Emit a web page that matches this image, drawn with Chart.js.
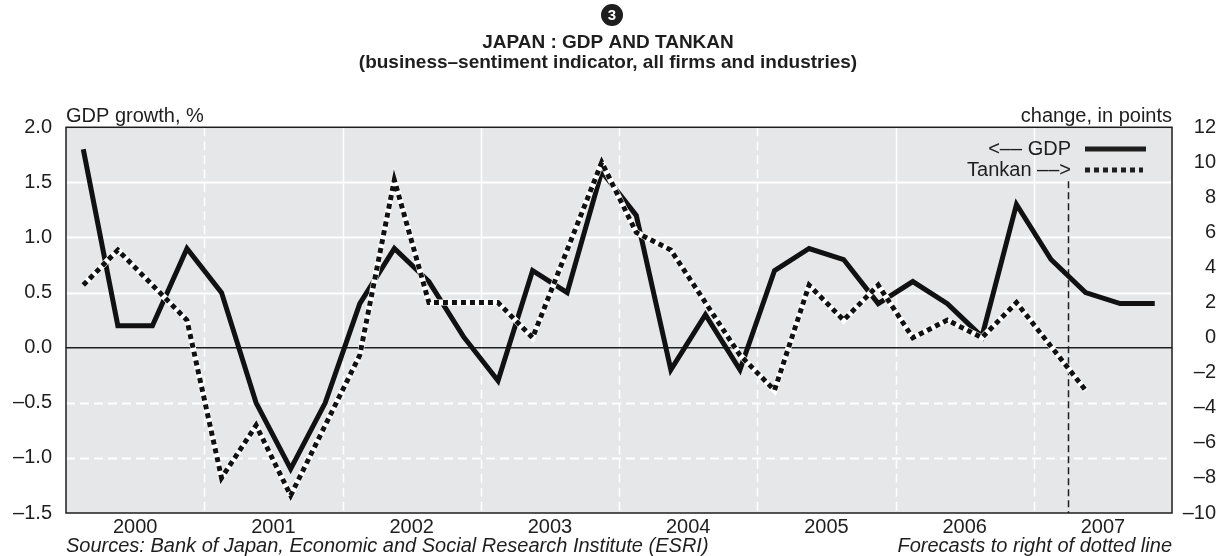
<!DOCTYPE html>
<html>
<head>
<meta charset="utf-8">
<script src="https://cdn.jsdelivr.net/npm/chart.js@4.4.1/dist/chart.umd.min.js"></script>
<style>
  body { margin: 0; background: #fff; }
</style>
</head>
<body>
<canvas id="myChart" width="1224" height="556"></canvas>
<script>
// quarterly data, 2000 Q1 onwards
var years = [2000, 2001, 2002, 2003, 2004, 2005, 2006, 2007];
var gdp = [1.8, 0.2, 0.2, 0.9, 0.5, -0.5, -1.1, -0.5,
           0.4, 0.9, 0.6, 0.1, -0.3, 0.7, 0.5, 1.6,
           1.2, -0.2, 0.3, -0.2, 0.7, 0.9, 0.8, 0.4,
           0.6, 0.4, 0.1, 1.3, 0.8, 0.5, 0.4, 0.4];
var tankan = [3, 5, 3, 1, -8, -5, -9, -5,
              -1, 9, 2, 2, 2, 0, 5, 10,
              6, 5, 2, -1, -3, 3, 1, 3,
              0, 1, 0, 2, -0.5, -3];
var leftTicks = [-1.5, -1.0, -0.5, 0.0, 0.5, 1.0, 1.5, 2.0];
var rightTicks = [-10, -8, -6, -4, -2, 0, 2, 4, 6, 8, 10, 12];
// year boundaries where the grid line is solid above zero
var solidTop = [false, true, true, false, false, true, true];
var forecastFrom = 29; // quarter index where forecasts start

var FONT = "'Liberation Sans', Arial, Helvetica, sans-serif";
var INK = '#1e1e1e';

function dash(s) { return String(s).replace('-', '\u2013'); }
function pts(arr) { return arr.map(function (v, i) { return { x: i + 0.5, y: v }; }); }

var decor = {
  id: 'decor',
  beforeDatasetsDraw: function (chart) {
    var ctx = chart.ctx, a = chart.chartArea;
    var y = chart.scales.y, x = chart.scales.x;
    ctx.save();
    ctx.fillStyle = '#e6e7e9';
    ctx.fillRect(a.left, a.top, a.right - a.left, a.bottom - a.top);
    var y0 = y.getPixelForValue(0);

    // horizontal grid
    ctx.strokeStyle = '#fff';
    leftTicks.forEach(function (v) {
      if (v === 0 || v === leftTicks[0] || v === leftTicks[leftTicks.length - 1]) return;
      var py = Math.round(y.getPixelForValue(v)) + 0.5;
      ctx.lineWidth = 2;
      ctx.setLineDash(v > 0 ? [] : [9, 5]);
      ctx.beginPath(); ctx.moveTo(a.left, py); ctx.lineTo(a.right, py); ctx.stroke();
    });

    // vertical grid at year boundaries
    for (var i = 1; i < years.length; i++) {
      var px = Math.round(x.getPixelForValue(i * 4)) + 0.5;
      ctx.lineWidth = 1.5;
      ctx.setLineDash(solidTop[i - 1] ? [] : [9, 5]);
      ctx.beginPath(); ctx.moveTo(px, a.top); ctx.lineTo(px, y0); ctx.stroke();
      ctx.setLineDash([9, 5]);
      ctx.beginPath(); ctx.moveTo(px, y0); ctx.lineTo(px, a.bottom); ctx.stroke();
    }

    // zero line
    ctx.setLineDash([]);
    ctx.strokeStyle = INK;
    ctx.lineWidth = 1.5;
    ctx.beginPath(); ctx.moveTo(a.left, y0); ctx.lineTo(a.right, y0); ctx.stroke();

    // forecast marker
    var fx = Math.round(x.getPixelForValue(forecastFrom)) + 0.5;
    ctx.setLineDash([7, 4]);
    ctx.beginPath(); ctx.moveTo(fx, a.top + 54); ctx.lineTo(fx, a.bottom); ctx.stroke();
    ctx.restore();
  },
  afterDraw: function (chart) {
    var ctx = chart.ctx, a = chart.chartArea;
    ctx.save();
    ctx.strokeStyle = INK;
    ctx.lineWidth = 1.5;
    ctx.strokeRect(a.left, a.top, a.right - a.left, a.bottom - a.top);

    // legend
    ctx.fillStyle = INK;
    ctx.font = '20px ' + FONT;
    ctx.textAlign = 'right';
    ctx.textBaseline = 'middle';
    ctx.fillText('<\u2013\u2013 GDP', 1071, 149);
    ctx.fillText('Tankan \u2013\u2013>', 1071, 170);
    ctx.lineWidth = 5;
    ctx.beginPath(); ctx.moveTo(1085, 149); ctx.lineTo(1146, 149); ctx.stroke();
    ctx.setLineDash([5, 4]);
    ctx.beginPath(); ctx.moveTo(1085, 170); ctx.lineTo(1143, 170); ctx.stroke();
    ctx.setLineDash([]);

    // axis titles
    ctx.font = '20px ' + FONT;
    ctx.textBaseline = 'alphabetic';
    ctx.textAlign = 'left';
    ctx.fillText('GDP growth, %', a.left, a.top - 5);
    ctx.textAlign = 'right';
    ctx.fillText('change, in points', a.right, a.top - 5);

    // sources line
    ctx.font = 'italic 20px ' + FONT;
    ctx.textAlign = 'left';
    ctx.fillText('Sources: Bank of Japan, Economic and Social Research Institute (ESRI)', a.left, 552);
    ctx.textAlign = 'right';
    ctx.fillText('Forecasts to right of dotted line', a.right, 552);

    // chart number badge
    ctx.beginPath();
    ctx.arc(612, 15, 11, 0, Math.PI * 2);
    ctx.fill();
    ctx.fillStyle = '#fff';
    ctx.font = 'bold 15px ' + FONT;
    ctx.textAlign = 'center';
    ctx.textBaseline = 'middle';
    ctx.fillText('3', 612, 16);
    ctx.restore();
  }
};

var tickFont = { family: FONT, size: 20 };

var myChart = new Chart(document.getElementById('myChart'), {
  type: 'line',
  data: {
    datasets: [{
      label: 'Tankan',
      data: pts(tankan),
      yAxisID: 'y1',
      borderColor: '#111',
      borderWidth: 5,
      borderDash: [5, 4],
      borderCapStyle: 'butt',
      pointRadius: 0,
      order: 0
    }, {
      label: 'Tankan underlay',
      data: pts(tankan),
      yAxisID: 'y1',
      borderColor: '#fff',
      borderWidth: 6,
      pointRadius: 0,
      order: 1
    }, {
      label: 'GDP',
      data: pts(gdp),
      yAxisID: 'y',
      borderColor: '#111',
      borderWidth: 5,
      borderJoinStyle: 'miter',
      pointRadius: 0,
      order: 2
    }]
  },
  options: {
    responsive: false,
    animation: false,
    devicePixelRatio: 1,
    layout: { padding: { left: 0, right: 8, top: 0, bottom: 0 } },
    plugins: {
      legend: { display: false },
      tooltip: { enabled: false },
      title: {
        display: true,
        text: ['JAPAN : GDP AND TANKAN', '(business\u2013sentiment indicator, all firms and industries)'],
        color: INK,
        font: { family: FONT, size: 19, weight: 'bold', lineHeight: 1.06 },
        padding: { top: 33, bottom: 54 }
      }
    },
    scales: {
      x: {
        type: 'linear', min: 0, max: 32,
        afterBuildTicks: function (s) { s.ticks = years.map(function (y, i) { return { value: i * 4 + 2 }; }); },
        afterFit: function (s) { s.height = 43; },
        ticks: { callback: function (v) { return years[(v - 2) / 4]; }, font: tickFont, color: INK, padding: 2, maxRotation: 0, autoSkip: false },
        grid: { display: false, drawTicks: false },
        border: { display: false }
      },
      y: {
        position: 'left', min: -1.5, max: 2,
        afterBuildTicks: function (s) { s.ticks = leftTicks.map(function (v) { return { value: v }; }); },
        afterFit: function (s) { s.width = 66; },
        ticks: { callback: function (v) { return dash(v.toFixed(1)); }, font: tickFont, color: INK, padding: 14 },
        grid: { display: false, drawTicks: false },
        border: { display: false }
      },
      y1: {
        position: 'right', min: -10, max: 12,
        afterBuildTicks: function (s) { s.ticks = rightTicks.map(function (v) { return { value: v }; }); },
        afterFit: function (s) { s.width = 44; },
        ticks: { callback: function (v) { return dash(v); }, font: tickFont, color: INK, crossAlign: 'far' },
        grid: { display: false, drawTicks: false },
        border: { display: false }
      }
    }
  },
  plugins: [decor]
});
</script>
</body>
</html>
